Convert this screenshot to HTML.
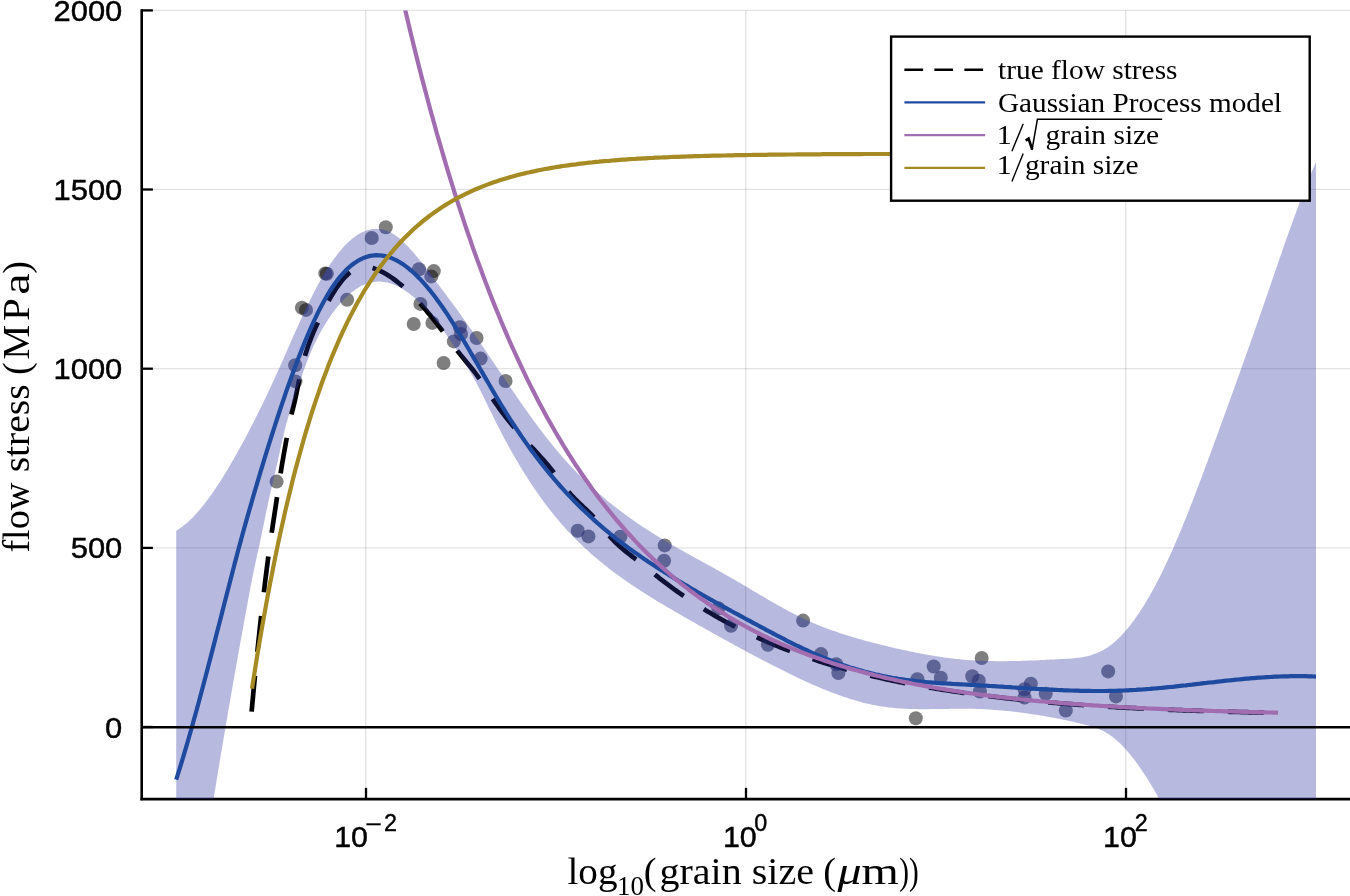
<!DOCTYPE html>
<html><head><meta charset="utf-8"><title>flow stress vs grain size</title>
<style>html,body{margin:0;padding:0;background:#fff;}svg{display:block;will-change:transform;}</style></head>
<body>
<svg width="1350" height="896" viewBox="0 0 1350 896">
<defs><clipPath id="c"><rect x="141.7" y="10.4" width="1208.3" height="788.7"/></clipPath><path id="rb" d="M176.2,530.7 L178.2,529.5 L180.2,528.1 L182.2,526.7 L184.2,525.1 L186.2,523.5 L188.2,521.7 L190.2,519.8 L192.2,517.9 L194.2,515.8 L196.2,513.7 L198.2,511.4 L200.2,509.1 L202.2,506.7 L204.2,504.2 L206.2,501.6 L208.2,499.0 L210.2,496.2 L212.2,493.4 L214.2,490.5 L216.2,487.6 L218.2,484.5 L220.2,481.5 L222.2,478.3 L224.2,475.1 L226.2,471.8 L228.2,468.5 L230.2,465.1 L232.2,461.6 L234.2,458.1 L236.2,454.6 L238.2,451.0 L240.2,447.3 L242.2,443.7 L244.2,439.9 L246.2,436.2 L248.2,432.4 L250.2,428.5 L252.2,424.7 L254.2,420.7 L256.2,416.8 L258.2,412.8 L260.2,408.7 L262.2,404.7 L264.2,400.5 L266.2,396.4 L268.2,392.1 L270.2,387.9 L272.2,383.6 L274.2,379.2 L276.2,374.8 L278.2,370.4 L280.2,365.9 L282.2,361.4 L284.2,356.9 L286.2,352.4 L288.2,347.8 L290.2,343.3 L292.2,338.8 L294.2,334.3 L296.2,329.8 L298.2,325.4 L300.2,321.0 L302.2,316.6 L304.2,312.3 L306.2,308.1 L308.2,303.9 L310.2,299.8 L312.2,295.8 L314.2,291.8 L316.2,288.0 L318.2,284.3 L320.2,280.7 L322.2,277.2 L324.2,273.8 L326.2,270.5 L328.2,267.3 L330.2,264.3 L332.2,261.4 L334.2,258.6 L336.2,255.9 L338.2,253.3 L340.2,250.9 L342.2,248.5 L344.2,246.3 L346.2,244.3 L348.2,242.3 L350.2,240.5 L352.2,238.8 L354.2,237.2 L356.2,235.8 L358.2,234.5 L360.2,233.3 L362.2,232.3 L364.2,231.4 L366.2,230.6 L368.2,230.0 L370.2,229.5 L372.2,229.1 L374.2,228.9 L376.2,228.8 L378.2,228.9 L380.2,229.1 L382.2,229.4 L384.2,229.9 L386.2,230.6 L388.2,231.4 L390.2,232.3 L392.2,233.4 L394.2,234.6 L396.2,236.0 L398.2,237.5 L400.2,239.1 L402.2,240.9 L404.2,242.8 L406.2,244.7 L408.2,246.8 L410.2,248.9 L412.2,251.2 L414.2,253.5 L416.2,255.9 L418.2,258.3 L420.2,260.8 L422.2,263.3 L424.2,265.9 L426.2,268.5 L428.2,271.1 L430.2,273.7 L432.2,276.4 L434.2,279.0 L436.2,281.7 L438.2,284.3 L440.2,287.0 L442.2,289.7 L444.2,292.3 L446.2,295.0 L448.2,297.7 L450.2,300.4 L452.2,303.1 L454.2,305.8 L456.2,308.6 L458.2,311.3 L460.2,314.1 L462.2,316.9 L464.2,319.7 L466.2,322.5 L468.2,325.4 L470.2,328.2 L472.2,331.1 L474.2,334.0 L476.2,336.9 L478.2,339.8 L480.2,342.8 L482.2,345.7 L484.2,348.7 L486.2,351.6 L488.2,354.6 L490.2,357.5 L492.2,360.5 L494.2,363.5 L496.2,366.5 L498.2,369.4 L500.2,372.4 L502.2,375.4 L504.2,378.3 L506.2,381.3 L508.2,384.2 L510.2,387.2 L512.2,390.1 L514.2,393.0 L516.2,395.9 L518.2,398.8 L520.2,401.7 L522.2,404.6 L524.2,407.4 L526.2,410.3 L528.2,413.1 L530.2,415.9 L532.2,418.6 L534.2,421.4 L536.2,424.1 L538.2,426.8 L540.2,429.4 L542.2,432.1 L544.2,434.7 L546.2,437.3 L548.2,439.8 L550.2,442.3 L552.2,444.8 L554.2,447.2 L556.2,449.6 L558.2,452.0 L560.2,454.3 L562.2,456.7 L564.2,458.9 L566.2,461.2 L568.2,463.4 L570.2,465.5 L572.2,467.7 L574.2,469.8 L576.2,471.9 L578.2,473.9 L580.2,475.9 L582.2,477.9 L584.2,479.9 L586.2,481.8 L588.2,483.7 L590.2,485.6 L592.2,487.5 L594.2,489.3 L596.2,491.1 L598.2,492.9 L600.2,494.6 L602.2,496.3 L604.2,498.0 L606.2,499.7 L608.2,501.4 L610.2,503.0 L612.2,504.6 L614.2,506.2 L616.2,507.8 L618.2,509.3 L620.2,510.8 L622.2,512.3 L624.2,513.8 L626.2,515.3 L628.2,516.8 L630.2,518.2 L632.2,519.6 L634.2,521.0 L636.2,522.4 L638.2,523.7 L640.2,525.1 L642.2,526.4 L644.2,527.7 L646.2,529.0 L648.2,530.3 L650.2,531.6 L652.2,532.9 L654.2,534.1 L656.2,535.4 L658.2,536.6 L660.2,537.8 L662.2,539.0 L664.2,540.2 L666.2,541.4 L668.2,542.6 L670.2,543.8 L672.2,544.9 L674.2,546.1 L676.2,547.2 L678.2,548.4 L680.2,549.5 L682.2,550.6 L684.2,551.7 L686.2,552.9 L688.2,554.0 L690.2,555.1 L692.2,556.2 L694.2,557.3 L696.2,558.4 L698.2,559.5 L700.2,560.6 L702.2,561.7 L704.2,562.8 L706.2,563.9 L708.2,565.0 L710.2,566.1 L712.2,567.2 L714.2,568.3 L716.2,569.4 L718.2,570.5 L720.2,571.7 L722.2,572.8 L724.2,573.9 L726.2,575.0 L728.2,576.2 L730.2,577.3 L732.2,578.4 L734.2,579.6 L736.2,580.8 L738.2,581.9 L740.2,583.1 L742.2,584.3 L744.2,585.5 L746.2,586.6 L748.2,587.8 L750.2,589.0 L752.2,590.2 L754.2,591.4 L756.2,592.6 L758.2,593.8 L760.2,595.0 L762.2,596.1 L764.2,597.3 L766.2,598.5 L768.2,599.7 L770.2,600.8 L772.2,602.0 L774.2,603.1 L776.2,604.3 L778.2,605.4 L780.2,606.5 L782.2,607.6 L784.2,608.7 L786.2,609.8 L788.2,610.9 L790.2,612.0 L792.2,613.0 L794.2,614.0 L796.2,615.1 L798.2,616.0 L800.2,617.0 L802.2,618.0 L804.2,618.9 L806.2,619.9 L808.2,620.8 L810.2,621.7 L812.2,622.5 L814.2,623.4 L816.2,624.2 L818.2,625.1 L820.2,625.9 L822.2,626.7 L824.2,627.4 L826.2,628.2 L828.2,628.9 L830.2,629.7 L832.2,630.4 L834.2,631.1 L836.2,631.8 L838.2,632.5 L840.2,633.2 L842.2,633.8 L844.2,634.5 L846.2,635.1 L848.2,635.7 L850.2,636.3 L852.2,637.0 L854.2,637.5 L856.2,638.1 L858.2,638.7 L860.2,639.3 L862.2,639.8 L864.2,640.4 L866.2,640.9 L868.2,641.5 L870.2,642.0 L872.2,642.5 L874.2,643.0 L876.2,643.6 L878.2,644.1 L880.2,644.6 L882.2,645.1 L884.2,645.5 L886.2,646.0 L888.2,646.5 L890.2,647.0 L892.2,647.5 L894.2,647.9 L896.2,648.4 L898.2,648.8 L900.2,649.3 L902.2,649.7 L904.2,650.2 L906.2,650.6 L908.2,651.0 L910.2,651.4 L912.2,651.8 L914.2,652.3 L916.2,652.7 L918.2,653.0 L920.2,653.4 L922.2,653.8 L924.2,654.2 L926.2,654.5 L928.2,654.9 L930.2,655.2 L932.2,655.6 L934.2,655.9 L936.2,656.2 L938.2,656.5 L940.2,656.8 L942.2,657.1 L944.2,657.4 L946.2,657.7 L948.2,657.9 L950.2,658.2 L952.2,658.4 L954.2,658.7 L956.2,658.9 L958.2,659.1 L960.2,659.3 L962.2,659.5 L964.2,659.7 L966.2,659.9 L968.2,660.0 L970.2,660.2 L972.2,660.3 L974.2,660.4 L976.2,660.5 L978.2,660.7 L980.2,660.7 L982.2,660.8 L984.2,660.9 L986.2,661.0 L988.2,661.0 L990.2,661.1 L992.2,661.1 L994.2,661.1 L996.2,661.2 L998.2,661.2 L1000.2,661.2 L1002.2,661.2 L1004.2,661.2 L1006.2,661.2 L1008.2,661.1 L1010.2,661.1 L1012.2,661.1 L1014.2,661.0 L1016.2,661.0 L1018.2,660.9 L1020.2,660.9 L1022.2,660.8 L1024.2,660.7 L1026.2,660.7 L1028.2,660.6 L1030.2,660.5 L1032.2,660.4 L1034.2,660.4 L1036.2,660.3 L1038.2,660.2 L1040.2,660.1 L1042.2,660.0 L1044.2,659.9 L1046.2,659.8 L1048.2,659.7 L1050.2,659.6 L1052.2,659.5 L1054.2,659.4 L1056.2,659.3 L1058.2,659.2 L1060.2,659.1 L1062.2,659.0 L1064.2,658.9 L1066.2,658.8 L1068.2,658.7 L1070.2,658.6 L1072.2,658.4 L1074.2,658.2 L1076.2,658.0 L1078.2,657.8 L1080.2,657.5 L1082.2,657.2 L1084.2,656.8 L1086.2,656.4 L1088.2,655.9 L1090.2,655.4 L1092.2,654.8 L1094.2,654.1 L1096.2,653.3 L1098.2,652.5 L1100.2,651.5 L1102.2,650.5 L1104.2,649.4 L1106.2,648.2 L1108.2,646.9 L1110.2,645.5 L1112.2,643.9 L1114.2,642.3 L1116.2,640.5 L1118.2,638.7 L1120.2,636.7 L1122.2,634.6 L1124.2,632.4 L1126.2,630.1 L1128.2,627.7 L1130.2,625.2 L1132.2,622.6 L1134.2,619.9 L1136.2,617.1 L1138.2,614.2 L1140.2,611.2 L1142.2,608.1 L1144.2,604.9 L1146.2,601.6 L1148.2,598.2 L1150.2,594.7 L1152.2,591.2 L1154.2,587.5 L1156.2,583.7 L1158.2,579.9 L1160.2,575.9 L1162.2,571.9 L1164.2,567.8 L1166.2,563.6 L1168.2,559.3 L1170.2,554.9 L1172.2,550.5 L1174.2,545.9 L1176.2,541.3 L1178.2,536.6 L1180.2,531.9 L1182.2,527.0 L1184.2,522.1 L1186.2,517.2 L1188.2,512.2 L1190.2,507.1 L1192.2,501.9 L1194.2,496.8 L1196.2,491.6 L1198.2,486.3 L1200.2,481.0 L1202.2,475.7 L1204.2,470.3 L1206.2,464.9 L1208.2,459.5 L1210.2,454.1 L1212.2,448.6 L1214.2,443.2 L1216.2,437.7 L1218.2,432.2 L1220.2,426.7 L1222.2,421.3 L1224.2,415.8 L1226.2,410.3 L1228.2,404.7 L1230.2,399.2 L1232.2,393.7 L1234.2,388.1 L1236.2,382.6 L1238.2,377.0 L1240.2,371.4 L1242.2,365.8 L1244.2,360.2 L1246.2,354.6 L1248.2,348.9 L1250.2,343.3 L1252.2,337.6 L1254.2,331.9 L1256.2,326.2 L1258.2,320.5 L1260.2,314.8 L1262.2,309.0 L1264.2,303.3 L1266.2,297.5 L1268.2,291.7 L1270.2,285.9 L1272.2,280.1 L1274.2,274.3 L1276.2,268.4 L1278.2,262.6 L1280.2,256.8 L1282.2,251.1 L1284.2,245.3 L1286.2,239.6 L1288.2,233.9 L1290.2,228.3 L1292.2,222.7 L1294.2,217.2 L1296.2,211.7 L1298.2,206.3 L1300.2,201.0 L1302.2,195.7 L1304.2,190.5 L1306.2,185.4 L1308.2,180.4 L1310.2,175.5 L1312.2,170.8 L1314.2,166.1 L1316.0,161.9 L1316.0,1191.0 L1314.2,1189.0 L1312.2,1185.9 L1310.2,1182.0 L1308.2,1177.4 L1306.2,1172.1 L1304.2,1166.4 L1302.2,1160.4 L1300.2,1154.1 L1298.2,1147.7 L1296.2,1141.3 L1294.2,1135.0 L1292.2,1128.8 L1290.2,1122.7 L1288.2,1116.7 L1286.2,1110.9 L1284.2,1105.1 L1282.2,1099.4 L1280.2,1093.9 L1278.2,1088.3 L1276.2,1082.9 L1274.2,1077.5 L1272.2,1072.2 L1270.2,1066.9 L1268.2,1061.6 L1266.2,1056.3 L1264.2,1051.1 L1262.2,1045.9 L1260.2,1040.7 L1258.2,1035.5 L1256.2,1030.2 L1254.2,1025.0 L1252.2,1019.7 L1250.2,1014.4 L1248.2,1009.0 L1246.2,1003.6 L1244.2,998.2 L1242.2,992.6 L1240.2,987.0 L1238.2,981.3 L1236.2,975.6 L1234.2,969.8 L1232.2,964.0 L1230.2,958.1 L1228.2,952.3 L1226.2,946.5 L1224.2,940.7 L1222.2,935.0 L1220.2,929.4 L1218.2,923.8 L1216.2,918.4 L1214.2,913.0 L1212.2,907.8 L1210.2,902.8 L1208.2,897.9 L1206.2,893.1 L1204.2,888.4 L1202.2,883.9 L1200.2,879.4 L1198.2,875.1 L1196.2,870.8 L1194.2,866.6 L1192.2,862.5 L1190.2,858.4 L1188.2,854.4 L1186.2,850.4 L1184.2,846.4 L1182.2,842.4 L1180.2,838.5 L1178.2,834.6 L1176.2,830.6 L1174.2,826.8 L1172.2,822.9 L1170.2,819.1 L1168.2,815.3 L1166.2,811.5 L1164.2,807.8 L1162.2,804.2 L1160.2,800.6 L1158.2,797.0 L1156.2,793.5 L1154.2,790.1 L1152.2,786.7 L1150.2,783.4 L1148.2,780.1 L1146.2,777.0 L1144.2,773.9 L1142.2,770.9 L1140.2,767.9 L1138.2,765.1 L1136.2,762.3 L1134.2,759.6 L1132.2,757.1 L1130.2,754.6 L1128.2,752.2 L1126.2,749.9 L1124.2,747.7 L1122.2,745.6 L1120.2,743.6 L1118.2,741.7 L1116.2,739.9 L1114.2,738.2 L1112.2,736.7 L1110.2,735.2 L1108.2,733.9 L1106.2,732.7 L1104.2,731.6 L1102.2,730.6 L1100.2,729.7 L1098.2,728.8 L1096.2,728.1 L1094.2,727.4 L1092.2,726.7 L1090.2,726.1 L1088.2,725.5 L1086.2,725.0 L1084.2,724.5 L1082.2,724.0 L1080.2,723.5 L1078.2,723.0 L1076.2,722.5 L1074.2,722.1 L1072.2,721.6 L1070.2,721.2 L1068.2,720.7 L1066.2,720.3 L1064.2,719.9 L1062.2,719.5 L1060.2,719.1 L1058.2,718.7 L1056.2,718.3 L1054.2,717.9 L1052.2,717.6 L1050.2,717.2 L1048.2,716.8 L1046.2,716.5 L1044.2,716.1 L1042.2,715.8 L1040.2,715.5 L1038.2,715.1 L1036.2,714.8 L1034.2,714.5 L1032.2,714.2 L1030.2,713.9 L1028.2,713.6 L1026.2,713.3 L1024.2,713.1 L1022.2,712.8 L1020.2,712.5 L1018.2,712.3 L1016.2,712.0 L1014.2,711.8 L1012.2,711.6 L1010.2,711.3 L1008.2,711.1 L1006.2,710.9 L1004.2,710.7 L1002.2,710.5 L1000.2,710.4 L998.2,710.2 L996.2,710.0 L994.2,709.9 L992.2,709.7 L990.2,709.6 L988.2,709.5 L986.2,709.3 L984.2,709.2 L982.2,709.1 L980.2,709.0 L978.2,709.0 L976.2,708.9 L974.2,708.8 L972.2,708.8 L970.2,708.8 L968.2,708.7 L966.2,708.7 L964.2,708.7 L962.2,708.7 L960.2,708.7 L958.2,708.7 L956.2,708.7 L954.2,708.8 L952.2,708.8 L950.2,708.8 L948.2,708.9 L946.2,708.9 L944.2,708.9 L942.2,709.0 L940.2,709.0 L938.2,709.0 L936.2,709.1 L934.2,709.1 L932.2,709.1 L930.2,709.1 L928.2,709.2 L926.2,709.2 L924.2,709.2 L922.2,709.2 L920.2,709.2 L918.2,709.2 L916.2,709.1 L914.2,709.1 L912.2,709.0 L910.2,709.0 L908.2,708.9 L906.2,708.8 L904.2,708.7 L902.2,708.6 L900.2,708.5 L898.2,708.3 L896.2,708.2 L894.2,708.0 L892.2,707.8 L890.2,707.6 L888.2,707.4 L886.2,707.1 L884.2,706.8 L882.2,706.5 L880.2,706.2 L878.2,705.9 L876.2,705.5 L874.2,705.1 L872.2,704.7 L870.2,704.3 L868.2,703.8 L866.2,703.4 L864.2,702.9 L862.2,702.4 L860.2,701.8 L858.2,701.3 L856.2,700.7 L854.2,700.1 L852.2,699.5 L850.2,698.9 L848.2,698.3 L846.2,697.6 L844.2,697.0 L842.2,696.3 L840.2,695.6 L838.2,694.9 L836.2,694.1 L834.2,693.4 L832.2,692.6 L830.2,691.9 L828.2,691.1 L826.2,690.3 L824.2,689.5 L822.2,688.7 L820.2,687.8 L818.2,687.0 L816.2,686.1 L814.2,685.2 L812.2,684.4 L810.2,683.5 L808.2,682.6 L806.2,681.7 L804.2,680.7 L802.2,679.8 L800.2,678.9 L798.2,677.9 L796.2,677.0 L794.2,676.0 L792.2,675.0 L790.2,674.1 L788.2,673.1 L786.2,672.1 L784.2,671.1 L782.2,670.1 L780.2,669.1 L778.2,668.1 L776.2,667.1 L774.2,666.1 L772.2,665.0 L770.2,664.0 L768.2,663.0 L766.2,662.0 L764.2,660.9 L762.2,659.9 L760.2,658.8 L758.2,657.8 L756.2,656.7 L754.2,655.7 L752.2,654.6 L750.2,653.5 L748.2,652.5 L746.2,651.4 L744.2,650.3 L742.2,649.2 L740.2,648.2 L738.2,647.1 L736.2,646.0 L734.2,644.9 L732.2,643.8 L730.2,642.7 L728.2,641.6 L726.2,640.5 L724.2,639.4 L722.2,638.3 L720.2,637.2 L718.2,636.1 L716.2,635.0 L714.2,633.9 L712.2,632.7 L710.2,631.6 L708.2,630.5 L706.2,629.4 L704.2,628.2 L702.2,627.1 L700.2,626.0 L698.2,624.9 L696.2,623.7 L694.2,622.6 L692.2,621.5 L690.2,620.3 L688.2,619.2 L686.2,618.0 L684.2,616.9 L682.2,615.8 L680.2,614.6 L678.2,613.5 L676.2,612.3 L674.2,611.2 L672.2,610.0 L670.2,608.8 L668.2,607.7 L666.2,606.5 L664.2,605.3 L662.2,604.1 L660.2,602.9 L658.2,601.7 L656.2,600.5 L654.2,599.3 L652.2,598.0 L650.2,596.8 L648.2,595.5 L646.2,594.3 L644.2,593.0 L642.2,591.7 L640.2,590.4 L638.2,589.1 L636.2,587.8 L634.2,586.5 L632.2,585.2 L630.2,583.8 L628.2,582.4 L626.2,581.1 L624.2,579.7 L622.2,578.2 L620.2,576.8 L618.2,575.4 L616.2,573.9 L614.2,572.4 L612.2,570.9 L610.2,569.4 L608.2,567.9 L606.2,566.3 L604.2,564.7 L602.2,563.1 L600.2,561.5 L598.2,559.8 L596.2,558.1 L594.2,556.4 L592.2,554.7 L590.2,552.9 L588.2,551.1 L586.2,549.3 L584.2,547.5 L582.2,545.6 L580.2,543.6 L578.2,541.7 L576.2,539.7 L574.2,537.7 L572.2,535.6 L570.2,533.5 L568.2,531.4 L566.2,529.2 L564.2,527.0 L562.2,524.7 L560.2,522.4 L558.2,520.1 L556.2,517.7 L554.2,515.2 L552.2,512.8 L550.2,510.3 L548.2,507.7 L546.2,505.1 L544.2,502.4 L542.2,499.7 L540.2,496.9 L538.2,494.1 L536.2,491.2 L534.2,488.3 L532.2,485.4 L530.2,482.3 L528.2,479.3 L526.2,476.1 L524.2,472.9 L522.2,469.7 L520.2,466.4 L518.2,463.1 L516.2,459.7 L514.2,456.2 L512.2,452.7 L510.2,449.2 L508.2,445.5 L506.2,441.9 L504.2,438.2 L502.2,434.4 L500.2,430.5 L498.2,426.6 L496.2,422.7 L494.2,418.7 L492.2,414.6 L490.2,410.5 L488.2,406.4 L486.2,402.4 L484.2,398.3 L482.2,394.3 L480.2,390.3 L478.2,386.4 L476.2,382.6 L474.2,379.0 L472.2,375.4 L470.2,371.9 L468.2,368.5 L466.2,365.2 L464.2,362.0 L462.2,358.7 L460.2,355.6 L458.2,352.4 L456.2,349.4 L454.2,346.3 L452.2,343.3 L450.2,340.4 L448.2,337.5 L446.2,334.6 L444.2,331.8 L442.2,329.1 L440.2,326.4 L438.2,323.8 L436.2,321.2 L434.2,318.7 L432.2,316.3 L430.2,314.0 L428.2,311.7 L426.2,309.4 L424.2,307.3 L422.2,305.2 L420.2,303.2 L418.2,301.2 L416.2,299.4 L414.2,297.6 L412.2,295.9 L410.2,294.3 L408.2,292.8 L406.2,291.4 L404.2,290.0 L402.2,288.8 L400.2,287.6 L398.2,286.6 L396.2,285.6 L394.2,284.7 L392.2,284.0 L390.2,283.3 L388.2,282.7 L386.2,282.3 L384.2,281.9 L382.2,281.7 L380.2,281.6 L378.2,281.6 L376.2,281.7 L374.2,281.9 L372.2,282.2 L370.2,282.6 L368.2,283.2 L366.2,283.9 L364.2,284.7 L362.2,285.6 L360.2,286.6 L358.2,287.8 L356.2,289.0 L354.2,290.4 L352.2,291.9 L350.2,293.5 L348.2,295.3 L346.2,297.2 L344.2,299.1 L342.2,301.2 L340.2,303.5 L338.2,305.8 L336.2,308.3 L334.2,310.9 L332.2,313.6 L330.2,316.5 L328.2,319.4 L326.2,322.5 L324.2,325.8 L322.2,329.2 L320.2,332.7 L318.2,336.5 L316.2,340.5 L314.2,344.6 L312.2,349.0 L310.2,353.7 L308.2,358.5 L306.2,363.7 L304.2,369.1 L302.2,374.9 L300.2,380.9 L298.2,387.2 L296.2,393.3 L294.2,399.2 L292.2,405.0 L290.2,410.9 L288.2,417.3 L286.2,424.3 L284.2,432.2 L282.2,440.8 L280.2,449.8 L278.2,458.9 L276.2,467.8 L274.2,476.3 L272.2,484.8 L270.2,493.5 L268.2,502.5 L266.2,512.1 L264.2,521.9 L262.2,531.7 L260.2,541.3 L258.2,550.5 L256.2,559.6 L254.2,568.8 L252.2,578.4 L250.2,588.7 L248.2,599.5 L246.2,610.4 L244.2,621.4 L242.2,632.4 L240.2,643.5 L238.2,654.6 L236.2,665.9 L234.2,677.1 L232.2,688.5 L230.2,700.0 L228.2,711.5 L226.2,723.2 L224.2,734.9 L222.2,746.8 L220.2,758.8 L218.2,770.8 L216.2,782.9 L214.2,795.1 L212.2,807.4 L210.2,819.7 L208.2,832.0 L206.2,844.4 L204.2,856.8 L202.2,869.3 L200.2,881.7 L198.2,894.1 L196.2,906.6 L194.2,919.0 L192.2,931.4 L190.2,943.8 L188.2,956.1 L186.2,968.4 L184.2,980.6 L182.2,992.7 L180.2,1004.8 L178.2,1016.8 L176.2,1028.7Z"/><clipPath id="r"><use href="#rb"/></clipPath></defs>
<rect width="1350" height="896" fill="#fff"/>
<line x1="365.7" x2="365.7" y1="10.4" y2="799.1" stroke="#000" stroke-opacity="0.11" stroke-width="1.4"/>
<line x1="745.7" x2="745.7" y1="10.4" y2="799.1" stroke="#000" stroke-opacity="0.11" stroke-width="1.4"/>
<line x1="1125.7" x2="1125.7" y1="10.4" y2="799.1" stroke="#000" stroke-opacity="0.11" stroke-width="1.4"/>
<line x1="141.7" x2="1350" y1="726.9" y2="726.9" stroke="#000" stroke-opacity="0.11" stroke-width="1.3"/>
<line x1="141.7" x2="1350" y1="547.8" y2="547.8" stroke="#000" stroke-opacity="0.11" stroke-width="1.3"/>
<line x1="141.7" x2="1350" y1="368.6" y2="368.6" stroke="#000" stroke-opacity="0.11" stroke-width="1.3"/>
<line x1="141.7" x2="1350" y1="189.4" y2="189.4" stroke="#000" stroke-opacity="0.11" stroke-width="1.3"/>
<line x1="141.7" x2="1350" y1="10.3" y2="10.3" stroke="#000" stroke-opacity="0.11" stroke-width="1.3"/>
<g stroke="#000" stroke-width="2.6" fill="none">
<path d="M141.7,9.200000000000001 V800.35"/>
<path d="M140.45,799.1 H1350"/>
</g><g stroke="#000" stroke-width="2.3">
<line x1="366.0" x2="366.0" y1="799.1" y2="787.9"/>
<line x1="746.0" x2="746.0" y1="799.1" y2="787.9"/>
<line x1="1126.0" x2="1126.0" y1="799.1" y2="787.9"/>
<line x1="141.7" x2="152.89999999999998" y1="727.0" y2="727.0"/>
<line x1="141.7" x2="152.89999999999998" y1="547.9" y2="547.9"/>
<line x1="141.7" x2="152.89999999999998" y1="368.7" y2="368.7"/>
<line x1="141.7" x2="152.89999999999998" y1="189.5" y2="189.5"/>
<line x1="141.7" x2="152.89999999999998" y1="10.4" y2="10.4"/>
</g>
<g clip-path="url(#c)">
<g fill="#000" fill-opacity="0.5">
<circle cx="276.6" cy="481.6" r="7"/>
<circle cx="295.2" cy="365.2" r="7"/>
<circle cx="295.5" cy="381.4" r="7"/>
<circle cx="301.9" cy="307.8" r="7"/>
<circle cx="306" cy="309.9" r="7"/>
<circle cx="325.3" cy="273.4" r="7"/>
<circle cx="326.8" cy="273.8" r="7"/>
<circle cx="347.1" cy="299.7" r="7"/>
<circle cx="371.7" cy="238" r="7"/>
<circle cx="385.8" cy="227.3" r="7"/>
<circle cx="413.7" cy="324" r="7"/>
<circle cx="419" cy="269.3" r="7"/>
<circle cx="433.8" cy="271.1" r="7"/>
<circle cx="431.3" cy="276.4" r="7"/>
<circle cx="420.4" cy="303.9" r="7"/>
<circle cx="432.4" cy="322.9" r="7"/>
<circle cx="459.9" cy="327.3" r="7"/>
<circle cx="461" cy="334" r="7"/>
<circle cx="476.6" cy="338" r="7"/>
<circle cx="453.8" cy="341.4" r="7"/>
<circle cx="480.6" cy="358.6" r="7"/>
<circle cx="443.6" cy="363" r="7"/>
<circle cx="505.6" cy="381" r="7"/>
<circle cx="577.7" cy="530.8" r="7"/>
<circle cx="588.4" cy="536.4" r="7"/>
<circle cx="620.4" cy="536.7" r="7"/>
<circle cx="664.7" cy="545.4" r="7"/>
<circle cx="664.1" cy="560.8" r="7"/>
<circle cx="718.3" cy="608.3" r="7"/>
<circle cx="731" cy="625.8" r="7"/>
<circle cx="767.9" cy="644.7" r="7"/>
<circle cx="803.1" cy="620.6" r="7"/>
<circle cx="821" cy="654.1" r="7"/>
<circle cx="836.2" cy="664.2" r="7"/>
<circle cx="838.4" cy="673.1" r="7"/>
<circle cx="915.8" cy="718.3" r="7"/>
<circle cx="917.4" cy="679.2" r="7"/>
<circle cx="933.7" cy="666.5" r="7"/>
<circle cx="940.8" cy="677.7" r="7"/>
<circle cx="981.7" cy="658" r="7"/>
<circle cx="972.3" cy="676.3" r="7"/>
<circle cx="978.8" cy="680.8" r="7"/>
<circle cx="979.9" cy="691.5" r="7"/>
<circle cx="1030.8" cy="683.7" r="7"/>
<circle cx="1024.5" cy="689.3" r="7"/>
<circle cx="1024.5" cy="697.5" r="7"/>
<circle cx="1045.7" cy="693.8" r="7"/>
<circle cx="1065.8" cy="710.5" r="7"/>
<circle cx="1108.2" cy="671.4" r="7"/>
<circle cx="1116" cy="696.4" r="7"/>
</g>
<path d="M251.6,711.6 L253.6,690.0 L255.6,669.2 L257.6,649.3 L259.6,630.2 L261.6,612.0 L263.6,594.6 L265.6,578.0 L267.6,562.3 L269.6,547.4 L271.6,533.3 L273.6,519.9 L275.6,506.8 L277.6,493.4 L279.6,479.8 L281.6,467.0 L283.6,455.3 L285.6,444.2 L287.6,433.4 L289.6,422.9 L291.6,413.6 L293.6,405.8 L295.6,397.5 L297.6,387.8 L299.6,377.9 L301.6,369.0 L303.6,361.0 L305.6,353.9 L307.6,347.5 L309.6,341.8 L311.6,336.6 L313.6,331.8 L315.6,327.3 L317.6,323.0 L319.6,318.7 L321.6,314.6 L323.6,310.5 L325.6,306.6 L327.6,302.8 L329.6,299.2 L331.6,295.7 L333.6,292.4 L335.6,289.3 L337.6,286.3 L339.6,283.6 L341.6,281.0 L343.6,278.6 L345.6,276.5 L347.6,274.5 L349.6,272.7 L351.6,271.2 L353.6,269.9 L355.6,268.7 L357.6,267.9 L359.6,267.2 L361.6,266.8 L363.6,266.6 L365.6,266.6 L367.6,266.8 L369.6,267.2 L371.6,267.7 L373.6,268.3 L375.6,269.1 L377.6,269.8 L379.6,270.7 L381.6,271.7 L383.6,272.7 L385.6,273.8 L387.6,275.0 L389.6,276.3 L391.6,277.6 L393.6,279.0 L395.6,280.5 L397.6,282.0 L399.6,283.7 L401.6,285.3 L403.6,287.1 L405.6,288.9 L407.6,290.7 L409.6,292.6 L411.6,294.6 L413.6,296.6 L415.6,298.7 L417.6,300.8 L419.6,303.0 L421.6,305.2 L423.6,307.5 L425.6,309.8 L427.6,312.2 L429.6,314.6 L431.6,317.0 L433.6,319.5 L435.6,322.0 L437.6,324.6 L439.6,327.2 L441.6,329.8 L443.6,332.4 L445.6,335.1 L447.6,337.8 L449.6,340.5 L451.6,343.2 L453.6,345.9 L455.6,348.5 L457.6,351.1 L459.6,353.6 L461.6,356.1 L463.6,358.5 L465.6,361.0 L467.6,363.4 L469.6,365.8 L471.6,368.3 L473.6,370.8 L475.6,373.4 L477.6,376.1 L479.6,378.9 L481.6,381.8 L483.6,384.8 L485.6,387.8 L487.6,390.9 L489.6,394.0 L491.6,397.1 L493.6,400.2 L495.6,403.1 L497.6,406.0 L499.6,408.8 L501.6,411.5 L503.6,414.2 L505.6,416.8 L507.6,419.4 L509.6,421.9 L511.6,424.4 L513.6,426.8 L515.6,429.1 L517.6,431.5 L519.6,433.8 L521.6,436.0 L523.6,438.3 L525.6,440.5 L527.6,442.7 L529.6,444.9 L531.6,447.1 L533.6,449.2 L535.6,451.4 L537.6,453.6 L539.6,455.8 L541.6,458.0 L543.6,460.2 L545.6,462.5 L547.6,464.8 L549.6,467.2 L551.6,469.7 L553.6,472.2 L555.6,474.7 L557.6,477.4 L559.6,480.1 L561.6,482.8 L563.6,485.4 L565.6,488.0 L567.6,490.6 L569.6,493.0 L571.6,495.3 L573.6,497.4 L575.6,499.5 L577.6,501.5 L579.6,503.4 L581.6,505.3 L583.6,507.2 L585.6,509.0 L587.6,510.9 L589.6,512.9 L591.6,514.9 L593.6,517.0 L595.6,519.2 L597.6,521.5 L599.6,523.9 L601.6,526.4 L603.6,528.8 L605.6,531.3 L607.6,533.7 L609.6,536.1 L611.6,538.3 L613.6,540.5 L615.6,542.5 L617.6,544.4 L619.6,546.3 L621.6,548.0 L623.6,549.7 L625.6,551.3 L627.6,552.9 L629.6,554.5 L631.6,556.0 L633.6,557.5 L635.6,559.1 L637.6,560.6 L639.6,562.2 L641.6,563.8 L643.6,565.4 L645.6,567.0 L647.6,568.6 L649.6,570.2 L651.6,571.9 L653.6,573.5 L655.6,575.1 L657.6,576.7 L659.6,578.3 L661.6,579.8 L663.6,581.4 L665.6,582.9 L667.6,584.4 L669.6,585.9 L671.6,587.4 L673.6,588.8 L675.6,590.3 L677.6,591.7 L679.6,593.1 L681.6,594.5 L683.6,595.9 L685.6,597.3 L687.6,598.6 L689.6,600.0 L691.6,601.3 L693.6,602.6 L695.6,603.9 L697.6,605.2 L699.6,606.5 L701.6,607.7 L703.6,608.9 L705.6,610.2 L707.6,611.4 L709.6,612.6 L711.6,613.8 L713.6,614.9 L715.6,616.1 L717.6,617.2 L719.6,618.4 L721.6,619.5 L723.6,620.6 L725.6,621.7 L727.6,622.8 L729.6,623.8 L731.6,624.9 L733.6,625.9 L735.6,627.0 L737.6,628.0 L739.6,629.0 L741.6,630.0 L743.6,631.0 L745.6,632.0 L747.6,632.9 L749.6,633.9 L751.6,634.8 L753.6,635.7 L755.6,636.7 L757.6,637.6 L759.6,638.5 L761.6,639.4 L763.6,640.3 L765.6,641.1 L767.6,642.0 L769.6,642.8 L771.6,643.7 L773.6,644.5 L775.6,645.3 L777.6,646.2 L779.6,647.0 L781.6,647.8 L783.6,648.5 L785.6,649.3 L787.6,650.1 L789.6,650.9 L791.6,651.6 L793.6,652.4 L795.6,653.1 L797.6,653.8 L799.6,654.6 L801.6,655.3 L803.6,656.0 L805.6,656.7 L807.6,657.4 L809.6,658.1 L811.6,658.7 L813.6,659.4 L815.6,660.1 L817.6,660.7 L819.6,661.4 L821.6,662.0 L823.6,662.7 L825.6,663.3 L827.6,663.9 L829.6,664.5 L831.6,665.1 L833.6,665.7 L835.6,666.3 L837.6,666.9 L839.6,667.5 L841.6,668.1 L843.6,668.6 L845.6,669.2 L847.6,669.8 L849.6,670.3 L851.6,670.8 L853.6,671.4 L855.6,671.9 L857.6,672.4 L859.6,672.9 L861.6,673.5 L863.6,674.0 L865.6,674.5 L867.6,675.0 L869.6,675.4 L871.6,675.9 L873.6,676.4 L875.6,676.9 L877.6,677.3 L879.6,677.8 L881.6,678.3 L883.6,678.7 L885.6,679.1 L887.6,679.6 L889.6,680.0 L891.6,680.4 L893.6,680.9 L895.6,681.3 L897.6,681.7 L899.6,682.1 L901.6,682.5 L903.6,682.9 L905.6,683.3 L907.6,683.7 L909.6,684.1 L911.6,684.4 L913.6,684.8 L915.6,685.2 L917.6,685.6 L919.6,685.9 L921.6,686.3 L923.6,686.6 L925.6,687.0 L927.6,687.3 L929.6,687.7 L931.6,688.0 L933.6,688.3 L935.6,688.7 L937.6,689.0 L939.6,689.3 L941.6,689.6 L943.6,689.9 L945.6,690.2 L947.6,690.5 L949.6,690.8 L951.6,691.1 L953.6,691.4 L955.6,691.7 L957.6,692.0 L959.6,692.3 L961.6,692.6 L963.6,692.9 L965.6,693.1 L967.6,693.4 L969.6,693.7 L971.6,694.0 L973.6,694.2 L975.6,694.5 L977.6,694.7 L979.6,695.0 L981.6,695.3 L983.6,695.5 L985.6,695.7 L987.6,696.0 L989.6,696.2 L991.6,696.5 L993.6,696.7 L995.6,697.0 L997.6,697.2 L999.6,697.4 L1001.6,697.6 L1003.6,697.9 L1005.6,698.1 L1007.6,698.3 L1009.6,698.5 L1011.6,698.8 L1013.6,699.0 L1015.6,699.2 L1017.6,699.4 L1019.6,699.6 L1021.6,699.8 L1023.6,700.0 L1025.6,700.2 L1027.6,700.4 L1029.6,700.6 L1031.6,700.8 L1033.6,701.0 L1035.6,701.2 L1037.6,701.4 L1039.6,701.5 L1041.6,701.7 L1043.6,701.9 L1045.6,702.1 L1047.6,702.3 L1049.6,702.4 L1051.6,702.6 L1053.6,702.8 L1055.6,702.9 L1057.6,703.1 L1059.6,703.3 L1061.6,703.4 L1063.6,703.6 L1065.6,703.8 L1067.6,703.9 L1069.6,704.1 L1071.6,704.2 L1073.6,704.4 L1075.6,704.5 L1077.6,704.7 L1079.6,704.8 L1081.6,705.0 L1083.6,705.1 L1085.6,705.2 L1087.6,705.4 L1089.6,705.5 L1091.6,705.7 L1093.6,705.8 L1095.6,705.9 L1097.6,706.1 L1099.6,706.2 L1101.6,706.3 L1103.6,706.4 L1105.6,706.6 L1107.6,706.7 L1109.6,706.8 L1111.6,706.9 L1113.6,707.0 L1115.6,707.2 L1117.6,707.3 L1119.6,707.4 L1121.6,707.5 L1123.6,707.6 L1125.6,707.7 L1127.6,707.8 L1129.6,707.9 L1131.6,708.0 L1133.6,708.1 L1135.6,708.2 L1137.6,708.3 L1139.6,708.4 L1141.6,708.5 L1143.6,708.6 L1145.6,708.7 L1147.6,708.8 L1149.6,708.9 L1151.6,709.0 L1153.6,709.1 L1155.6,709.2 L1157.6,709.3 L1159.6,709.3 L1161.6,709.4 L1163.6,709.5 L1165.6,709.6 L1167.6,709.7 L1169.6,709.8 L1171.6,709.8 L1173.6,709.9 L1175.6,710.0 L1177.6,710.1 L1179.6,710.1 L1181.6,710.2 L1183.6,710.3 L1185.6,710.4 L1187.6,710.4 L1189.6,710.5 L1191.6,710.6 L1193.6,710.7 L1195.6,710.7 L1197.6,710.8 L1199.6,710.9 L1201.6,710.9 L1203.6,711.0 L1205.6,711.0 L1207.6,711.1 L1209.6,711.2 L1211.6,711.2 L1213.6,711.3 L1215.6,711.4 L1217.6,711.4 L1219.6,711.5 L1221.6,711.5 L1223.6,711.6 L1225.6,711.6 L1227.6,711.7 L1229.6,711.8 L1231.6,711.8 L1233.6,711.9 L1235.6,711.9 L1237.6,712.0 L1239.6,712.0 L1241.6,712.1 L1243.6,712.1 L1245.6,712.2 L1247.6,712.2 L1249.6,712.3 L1251.6,712.3 L1253.6,712.4 L1255.6,712.4 L1257.6,712.5 L1259.6,712.5 L1261.6,712.6 L1263.6,712.6 L1265.6,712.7 L1267.6,712.7 L1269.6,712.8 L1271.6,712.8 L1273.6,712.9 L1275.6,712.9 L1277.6,713.0 L1278.0,713.0" fill="none" stroke="#000" stroke-width="4.7" stroke-dasharray="36 24"/>
<use href="#rb" fill="#2d349e" fill-opacity="0.34"/>
<g clip-path="url(#r)" fill="#505fe7" fill-opacity="0.15">
<circle cx="276.6" cy="481.6" r="7"/>
<circle cx="295.2" cy="365.2" r="7"/>
<circle cx="295.5" cy="381.4" r="7"/>
<circle cx="301.9" cy="307.8" r="7"/>
<circle cx="306" cy="309.9" r="7"/>
<circle cx="325.3" cy="273.4" r="7"/>
<circle cx="326.8" cy="273.8" r="7"/>
<circle cx="347.1" cy="299.7" r="7"/>
<circle cx="371.7" cy="238" r="7"/>
<circle cx="385.8" cy="227.3" r="7"/>
<circle cx="413.7" cy="324" r="7"/>
<circle cx="419" cy="269.3" r="7"/>
<circle cx="433.8" cy="271.1" r="7"/>
<circle cx="431.3" cy="276.4" r="7"/>
<circle cx="420.4" cy="303.9" r="7"/>
<circle cx="432.4" cy="322.9" r="7"/>
<circle cx="459.9" cy="327.3" r="7"/>
<circle cx="461" cy="334" r="7"/>
<circle cx="476.6" cy="338" r="7"/>
<circle cx="453.8" cy="341.4" r="7"/>
<circle cx="480.6" cy="358.6" r="7"/>
<circle cx="443.6" cy="363" r="7"/>
<circle cx="505.6" cy="381" r="7"/>
<circle cx="577.7" cy="530.8" r="7"/>
<circle cx="588.4" cy="536.4" r="7"/>
<circle cx="620.4" cy="536.7" r="7"/>
<circle cx="664.7" cy="545.4" r="7"/>
<circle cx="664.1" cy="560.8" r="7"/>
<circle cx="718.3" cy="608.3" r="7"/>
<circle cx="731" cy="625.8" r="7"/>
<circle cx="767.9" cy="644.7" r="7"/>
<circle cx="803.1" cy="620.6" r="7"/>
<circle cx="821" cy="654.1" r="7"/>
<circle cx="836.2" cy="664.2" r="7"/>
<circle cx="838.4" cy="673.1" r="7"/>
<circle cx="915.8" cy="718.3" r="7"/>
<circle cx="917.4" cy="679.2" r="7"/>
<circle cx="933.7" cy="666.5" r="7"/>
<circle cx="940.8" cy="677.7" r="7"/>
<circle cx="981.7" cy="658" r="7"/>
<circle cx="972.3" cy="676.3" r="7"/>
<circle cx="978.8" cy="680.8" r="7"/>
<circle cx="979.9" cy="691.5" r="7"/>
<circle cx="1030.8" cy="683.7" r="7"/>
<circle cx="1024.5" cy="689.3" r="7"/>
<circle cx="1024.5" cy="697.5" r="7"/>
<circle cx="1045.7" cy="693.8" r="7"/>
<circle cx="1065.8" cy="710.5" r="7"/>
<circle cx="1108.2" cy="671.4" r="7"/>
<circle cx="1116" cy="696.4" r="7"/>
</g>
<path d="M176.2,779.6 L178.2,773.3 L180.2,766.9 L182.2,760.4 L184.2,753.7 L186.2,746.9 L188.2,740.0 L190.2,733.0 L192.2,725.9 L194.2,718.8 L196.2,711.5 L198.2,704.2 L200.2,696.8 L202.2,689.3 L204.2,681.7 L206.2,674.2 L208.2,666.5 L210.2,658.8 L212.2,651.1 L214.2,643.4 L216.2,635.6 L218.2,627.8 L220.2,620.0 L222.2,612.2 L224.2,604.3 L226.2,596.5 L228.2,588.7 L230.2,580.9 L232.2,573.2 L234.2,565.5 L236.2,557.9 L238.2,550.3 L240.2,542.9 L242.2,535.5 L244.2,528.3 L246.2,521.1 L248.2,514.1 L250.2,507.1 L252.2,500.1 L254.2,493.2 L256.2,486.4 L258.2,479.7 L260.2,472.9 L262.2,466.3 L264.2,459.7 L266.2,453.2 L268.2,446.7 L270.2,440.3 L272.2,434.0 L274.2,427.8 L276.2,421.6 L278.2,415.5 L280.2,409.4 L282.2,403.4 L284.2,397.6 L286.2,391.7 L288.2,386.0 L290.2,380.4 L292.2,374.8 L294.2,369.4 L296.2,364.0 L298.2,358.7 L300.2,353.5 L302.2,348.5 L304.2,343.5 L306.2,338.7 L308.2,334.0 L310.2,329.3 L312.2,324.9 L314.2,320.5 L316.2,316.3 L318.2,312.2 L320.2,308.2 L322.2,304.4 L324.2,300.7 L326.2,297.2 L328.2,293.8 L330.2,290.5 L332.2,287.5 L334.2,284.5 L336.2,281.7 L338.2,279.1 L340.2,276.6 L342.2,274.3 L344.2,272.1 L346.2,270.0 L348.2,268.1 L350.2,266.4 L352.2,264.7 L354.2,263.2 L356.2,261.9 L358.2,260.6 L360.2,259.5 L362.2,258.6 L364.2,257.7 L366.2,257.0 L368.2,256.4 L370.2,255.9 L372.2,255.6 L374.2,255.4 L376.2,255.2 L378.2,255.3 L380.2,255.4 L382.2,255.6 L384.2,255.9 L386.2,256.4 L388.2,257.0 L390.2,257.6 L392.2,258.4 L394.2,259.3 L396.2,260.2 L398.2,261.3 L400.2,262.5 L402.2,263.8 L404.2,265.1 L406.2,266.6 L408.2,268.1 L410.2,269.8 L412.2,271.5 L414.2,273.3 L416.2,275.2 L418.2,277.2 L420.2,279.2 L422.2,281.4 L424.2,283.6 L426.2,285.9 L428.2,288.3 L430.2,290.7 L432.2,293.2 L434.2,295.8 L436.2,298.5 L438.2,301.2 L440.2,304.0 L442.2,306.8 L444.2,309.7 L446.2,312.7 L448.2,315.7 L450.2,318.8 L452.2,321.9 L454.2,325.1 L456.2,328.3 L458.2,331.6 L460.2,334.9 L462.2,338.2 L464.2,341.5 L466.2,344.9 L468.2,348.3 L470.2,351.7 L472.2,355.1 L474.2,358.6 L476.2,362.0 L478.2,365.5 L480.2,369.0 L482.2,372.4 L484.2,375.9 L486.2,379.4 L488.2,382.8 L490.2,386.3 L492.2,389.7 L494.2,393.1 L496.2,396.5 L498.2,399.8 L500.2,403.2 L502.2,406.5 L504.2,409.7 L506.2,413.0 L508.2,416.2 L510.2,419.3 L512.2,422.4 L514.2,425.5 L516.2,428.5 L518.2,431.5 L520.2,434.5 L522.2,437.4 L524.2,440.3 L526.2,443.1 L528.2,445.9 L530.2,448.7 L532.2,451.4 L534.2,454.1 L536.2,456.7 L538.2,459.3 L540.2,461.9 L542.2,464.5 L544.2,467.0 L546.2,469.5 L548.2,471.9 L550.2,474.3 L552.2,476.7 L554.2,479.1 L556.2,481.4 L558.2,483.7 L560.2,486.0 L562.2,488.2 L564.2,490.4 L566.2,492.6 L568.2,494.7 L570.2,496.8 L572.2,498.9 L574.2,501.0 L576.2,503.0 L578.2,505.0 L580.2,507.0 L582.2,508.9 L584.2,510.8 L586.2,512.7 L588.2,514.6 L590.2,516.5 L592.2,518.3 L594.2,520.1 L596.2,521.9 L598.2,523.7 L600.2,525.4 L602.2,527.1 L604.2,528.8 L606.2,530.5 L608.2,532.1 L610.2,533.8 L612.2,535.4 L614.2,537.0 L616.2,538.6 L618.2,540.1 L620.2,541.7 L622.2,543.2 L624.2,544.7 L626.2,546.2 L628.2,547.7 L630.2,549.1 L632.2,550.6 L634.2,552.0 L636.2,553.4 L638.2,554.8 L640.2,556.2 L642.2,557.6 L644.2,559.0 L646.2,560.3 L648.2,561.7 L650.2,563.0 L652.2,564.3 L654.2,565.6 L656.2,566.9 L658.2,568.2 L660.2,569.5 L662.2,570.8 L664.2,572.0 L666.2,573.3 L668.2,574.5 L670.2,575.8 L672.2,577.0 L674.2,578.2 L676.2,579.4 L678.2,580.7 L680.2,581.9 L682.2,583.1 L684.2,584.3 L686.2,585.4 L688.2,586.6 L690.2,587.8 L692.2,589.0 L694.2,590.1 L696.2,591.3 L698.2,592.5 L700.2,593.6 L702.2,594.8 L704.2,595.9 L706.2,597.0 L708.2,598.2 L710.2,599.3 L712.2,600.4 L714.2,601.5 L716.2,602.7 L718.2,603.8 L720.2,604.9 L722.2,606.0 L724.2,607.1 L726.2,608.2 L728.2,609.3 L730.2,610.4 L732.2,611.5 L734.2,612.6 L736.2,613.6 L738.2,614.7 L740.2,615.8 L742.2,616.9 L744.2,618.0 L746.2,619.1 L748.2,620.1 L750.2,621.2 L752.2,622.3 L754.2,623.4 L756.2,624.4 L758.2,625.5 L760.2,626.6 L762.2,627.7 L764.2,628.7 L766.2,629.8 L768.2,630.9 L770.2,631.9 L772.2,633.0 L774.2,634.0 L776.2,635.1 L778.2,636.1 L780.2,637.2 L782.2,638.2 L784.2,639.2 L786.2,640.3 L788.2,641.3 L790.2,642.3 L792.2,643.3 L794.2,644.3 L796.2,645.3 L798.2,646.2 L800.2,647.2 L802.2,648.2 L804.2,649.1 L806.2,650.0 L808.2,651.0 L810.2,651.9 L812.2,652.8 L814.2,653.7 L816.2,654.6 L818.2,655.4 L820.2,656.3 L822.2,657.1 L824.2,657.9 L826.2,658.8 L828.2,659.5 L830.2,660.3 L832.2,661.1 L834.2,661.9 L836.2,662.6 L838.2,663.3 L840.2,664.0 L842.2,664.7 L844.2,665.4 L846.2,666.1 L848.2,666.7 L850.2,667.4 L852.2,668.0 L854.2,668.6 L856.2,669.2 L858.2,669.8 L860.2,670.4 L862.2,670.9 L864.2,671.5 L866.2,672.0 L868.2,672.5 L870.2,673.0 L872.2,673.5 L874.2,674.0 L876.2,674.5 L878.2,674.9 L880.2,675.4 L882.2,675.8 L884.2,676.2 L886.2,676.6 L888.2,677.0 L890.2,677.4 L892.2,677.8 L894.2,678.1 L896.2,678.4 L898.2,678.8 L900.2,679.1 L902.2,679.4 L904.2,679.7 L906.2,680.0 L908.2,680.2 L910.2,680.5 L912.2,680.7 L914.2,680.9 L916.2,681.2 L918.2,681.4 L920.2,681.6 L922.2,681.8 L924.2,681.9 L926.2,682.1 L928.2,682.3 L930.2,682.4 L932.2,682.6 L934.2,682.7 L936.2,682.9 L938.2,683.0 L940.2,683.2 L942.2,683.3 L944.2,683.4 L946.2,683.5 L948.2,683.6 L950.2,683.7 L952.2,683.9 L954.2,684.0 L956.2,684.1 L958.2,684.2 L960.2,684.3 L962.2,684.4 L964.2,684.5 L966.2,684.6 L968.2,684.7 L970.2,684.8 L972.2,684.9 L974.2,685.0 L976.2,685.1 L978.2,685.2 L980.2,685.4 L982.2,685.5 L984.2,685.6 L986.2,685.7 L988.2,685.8 L990.2,686.0 L992.2,686.1 L994.2,686.2 L996.2,686.3 L998.2,686.5 L1000.2,686.6 L1002.2,686.7 L1004.2,686.9 L1006.2,687.0 L1008.2,687.1 L1010.2,687.2 L1012.2,687.4 L1014.2,687.5 L1016.2,687.6 L1018.2,687.8 L1020.2,687.9 L1022.2,688.0 L1024.2,688.1 L1026.2,688.3 L1028.2,688.4 L1030.2,688.5 L1032.2,688.6 L1034.2,688.7 L1036.2,688.9 L1038.2,689.0 L1040.2,689.1 L1042.2,689.2 L1044.2,689.3 L1046.2,689.4 L1048.2,689.5 L1050.2,689.6 L1052.2,689.7 L1054.2,689.8 L1056.2,689.9 L1058.2,690.0 L1060.2,690.1 L1062.2,690.2 L1064.2,690.3 L1066.2,690.3 L1068.2,690.4 L1070.2,690.5 L1072.2,690.5 L1074.2,690.6 L1076.2,690.7 L1078.2,690.7 L1080.2,690.8 L1082.2,690.8 L1084.2,690.9 L1086.2,690.9 L1088.2,690.9 L1090.2,690.9 L1092.2,691.0 L1094.2,691.0 L1096.2,691.0 L1098.2,691.0 L1100.2,691.0 L1102.2,691.0 L1104.2,691.0 L1106.2,691.0 L1108.2,690.9 L1110.2,690.9 L1112.2,690.9 L1114.2,690.8 L1116.2,690.8 L1118.2,690.7 L1120.2,690.6 L1122.2,690.6 L1124.2,690.5 L1126.2,690.4 L1128.2,690.3 L1130.2,690.2 L1132.2,690.1 L1134.2,690.0 L1136.2,689.9 L1138.2,689.7 L1140.2,689.6 L1142.2,689.5 L1144.2,689.3 L1146.2,689.2 L1148.2,689.0 L1150.2,688.9 L1152.2,688.7 L1154.2,688.5 L1156.2,688.3 L1158.2,688.2 L1160.2,688.0 L1162.2,687.8 L1164.2,687.6 L1166.2,687.4 L1168.2,687.2 L1170.2,687.0 L1172.2,686.8 L1174.2,686.6 L1176.2,686.3 L1178.2,686.1 L1180.2,685.9 L1182.2,685.7 L1184.2,685.5 L1186.2,685.3 L1188.2,685.0 L1190.2,684.8 L1192.2,684.6 L1194.2,684.3 L1196.2,684.1 L1198.2,683.9 L1200.2,683.7 L1202.2,683.4 L1204.2,683.2 L1206.2,683.0 L1208.2,682.7 L1210.2,682.5 L1212.2,682.3 L1214.2,682.1 L1216.2,681.8 L1218.2,681.6 L1220.2,681.4 L1222.2,681.2 L1224.2,680.9 L1226.2,680.7 L1228.2,680.5 L1230.2,680.3 L1232.2,680.1 L1234.2,679.9 L1236.2,679.7 L1238.2,679.5 L1240.2,679.3 L1242.2,679.1 L1244.2,678.9 L1246.2,678.7 L1248.2,678.6 L1250.2,678.4 L1252.2,678.2 L1254.2,678.1 L1256.2,677.9 L1258.2,677.7 L1260.2,677.6 L1262.2,677.5 L1264.2,677.3 L1266.2,677.2 L1268.2,677.1 L1270.2,677.0 L1272.2,676.8 L1274.2,676.7 L1276.2,676.7 L1278.2,676.6 L1280.2,676.5 L1282.2,676.4 L1284.2,676.4 L1286.2,676.3 L1288.2,676.3 L1290.2,676.2 L1292.2,676.2 L1294.2,676.2 L1296.2,676.2 L1298.2,676.2 L1300.2,676.2 L1302.2,676.2 L1304.2,676.2 L1306.2,676.2 L1308.2,676.3 L1310.2,676.4 L1312.2,676.4 L1314.2,676.5 L1316.0,676.6" fill="none" stroke="#1e4ba0" stroke-width="4.2" stroke-linejoin="round"/>
<path d="M252.0,-1071.0 L254.6,-1043.4 L257.1,-1016.2 L259.7,-989.4 L262.3,-963.0 L264.9,-937.1 L267.4,-911.5 L270.0,-886.3 L272.6,-861.5 L275.1,-837.2 L277.7,-813.1 L280.3,-789.5 L282.9,-766.2 L285.4,-743.3 L288.0,-720.7 L290.6,-698.5 L293.1,-676.6 L295.7,-655.1 L298.3,-633.9 L300.9,-613.0 L303.4,-592.5 L306.0,-572.2 L308.6,-552.3 L311.1,-532.7 L313.7,-513.4 L316.3,-494.4 L318.9,-475.7 L321.4,-457.2 L324.0,-439.1 L326.6,-421.2 L329.1,-403.6 L331.7,-386.3 L334.3,-369.3 L336.9,-352.5 L339.4,-336.0 L342.0,-319.7 L344.6,-303.7 L347.1,-287.9 L349.7,-272.4 L352.3,-257.1 L354.9,-242.1 L357.4,-227.3 L360.0,-212.7 L362.6,-198.3 L365.1,-184.2 L367.7,-170.2 L370.3,-156.5 L372.9,-143.0 L375.4,-129.8 L378.0,-116.7 L380.6,-103.8 L383.1,-91.1 L385.7,-78.6 L388.3,-66.3 L390.9,-54.3 L393.4,-42.3 L396.0,-30.6 L398.6,-19.1 L401.1,-7.7 L403.7,3.5 L406.3,14.5 L408.9,25.4 L411.4,36.0 L414.0,46.6 L416.6,56.9 L419.1,67.1 L421.7,77.1 L424.3,87.0 L426.9,96.8 L429.4,106.3 L432.0,115.8 L434.6,125.0 L437.1,134.2 L439.7,143.2 L442.3,152.0 L444.9,160.8 L447.4,169.4 L450.0,177.8 L452.6,186.1 L455.1,194.3 L457.7,202.4 L460.3,210.3 L462.9,218.2 L465.4,225.9 L468.0,233.5 L470.6,240.9 L473.1,248.3 L475.7,255.5 L478.3,262.6 L480.9,269.6 L483.4,276.5 L486.0,283.3 L488.6,290.0 L491.1,296.6 L493.7,303.1 L496.3,309.5 L498.9,315.8 L501.4,322.0 L504.0,328.1 L506.6,334.1 L509.1,340.0 L511.7,345.8 L514.3,351.5 L516.9,357.2 L519.4,362.7 L522.0,368.2 L524.6,373.6 L527.1,378.9 L529.7,384.1 L532.3,389.2 L534.9,394.3 L537.4,399.3 L540.0,404.2 L542.6,409.0 L545.1,413.7 L547.7,418.4 L550.3,423.0 L552.9,427.5 L555.4,432.0 L558.0,436.4 L560.6,440.7 L563.1,445.0 L565.7,449.2 L568.3,453.3 L570.9,457.4 L573.4,461.4 L576.0,465.3 L578.6,469.2 L581.1,473.0 L583.7,476.8 L586.3,480.5 L588.9,484.1 L591.4,487.7 L594.0,491.2 L596.6,494.7 L599.1,498.2 L601.7,501.5 L604.3,504.8 L606.9,508.1 L609.4,511.3 L612.0,514.5 L614.6,517.6 L617.1,520.7 L619.7,523.7 L622.3,526.7 L624.9,529.6 L627.4,532.5 L630.0,535.3 L632.6,538.1 L635.1,540.9 L637.7,543.6 L640.3,546.3 L642.9,548.9 L645.4,551.5 L648.0,554.0 L650.6,556.5 L653.1,559.0 L655.7,561.4 L658.3,563.8 L660.9,566.2 L663.4,568.5 L666.0,570.8 L668.6,573.0 L671.1,575.3 L673.7,577.4 L676.3,579.6 L678.9,581.7 L681.4,583.8 L684.0,585.8 L686.6,587.8 L689.1,589.8 L691.7,591.8 L694.3,593.7 L696.9,595.6 L699.4,597.5 L702.0,599.3 L704.6,601.1 L707.1,602.9 L709.7,604.6 L712.3,606.4 L714.9,608.1 L717.4,609.7 L720.0,611.4 L722.6,613.0 L725.1,614.6 L727.7,616.2 L730.3,617.7 L732.9,619.3 L735.4,620.8 L738.0,622.2 L740.6,623.7 L743.1,625.1 L745.7,626.5 L748.3,627.9 L750.9,629.3 L753.4,630.6 L756.0,631.9 L758.6,633.2 L761.1,634.5 L763.7,635.8 L766.3,637.0 L768.9,638.3 L771.4,639.5 L774.0,640.7 L776.6,641.8 L779.1,643.0 L781.7,644.1 L784.3,645.2 L786.9,646.3 L789.4,647.4 L792.0,648.5 L794.6,649.5 L797.1,650.5 L799.7,651.6 L802.3,652.6 L804.9,653.5 L807.4,654.5 L810.0,655.5 L812.6,656.4 L815.1,657.3 L817.7,658.2 L820.3,659.1 L822.9,660.0 L825.4,660.9 L828.0,661.8 L830.6,662.6 L833.1,663.4 L835.7,664.2 L838.3,665.0 L840.9,665.8 L843.4,666.6 L846.0,667.4 L848.6,668.1 L851.1,668.9 L853.7,669.6 L856.3,670.3 L858.9,671.0 L861.4,671.7 L864.0,672.4 L866.6,673.1 L869.1,673.8 L871.7,674.4 L874.3,675.1 L876.9,675.7 L879.4,676.3 L882.0,677.0 L884.6,677.6 L887.1,678.2 L889.7,678.8 L892.3,679.3 L894.9,679.9 L897.4,680.5 L900.0,681.0 L902.6,681.6 L905.1,682.1 L907.7,682.6 L910.3,683.1 L912.9,683.7 L915.4,684.2 L918.0,684.7 L920.6,685.1 L923.1,685.6 L925.7,686.1 L928.3,686.6 L930.9,687.0 L933.4,687.5 L936.0,687.9 L938.6,688.4 L941.1,688.8 L943.7,689.2 L946.3,689.6 L948.9,690.0 L951.4,690.5 L954.0,690.9 L956.6,691.2 L959.1,691.6 L961.7,692.0 L964.3,692.4 L966.9,692.8 L969.4,693.1 L972.0,693.5 L974.6,693.8 L977.1,694.2 L979.7,694.5 L982.3,694.9 L984.9,695.2 L987.4,695.5 L990.0,695.8 L992.6,696.1 L995.1,696.5 L997.7,696.8 L1000.3,697.1 L1002.9,697.4 L1005.4,697.7 L1008.0,697.9 L1010.6,698.2 L1013.1,698.5 L1015.7,698.8 L1018.3,699.0 L1020.9,699.3 L1023.4,699.6 L1026.0,699.8 L1028.6,700.1 L1031.1,700.3 L1033.7,700.6 L1036.3,700.8 L1038.9,701.1 L1041.4,701.3 L1044.0,701.5 L1046.6,701.8 L1049.1,702.0 L1051.7,702.2 L1054.3,702.4 L1056.9,702.6 L1059.4,702.8 L1062.0,703.0 L1064.6,703.3 L1067.1,703.5 L1069.7,703.7 L1072.3,703.8 L1074.9,704.0 L1077.4,704.2 L1080.0,704.4 L1082.6,704.6 L1085.1,704.8 L1087.7,705.0 L1090.3,705.1 L1092.9,705.3 L1095.4,705.5 L1098.0,705.6 L1100.6,705.8 L1103.1,706.0 L1105.7,706.1 L1108.3,706.3 L1110.9,706.4 L1113.4,706.6 L1116.0,706.7 L1118.6,706.9 L1121.1,707.0 L1123.7,707.2 L1126.3,707.3 L1128.9,707.4 L1131.4,707.6 L1134.0,707.7 L1136.6,707.8 L1139.1,708.0 L1141.7,708.1 L1144.3,708.2 L1146.9,708.4 L1149.4,708.5 L1152.0,708.6 L1154.6,708.7 L1157.1,708.8 L1159.7,708.9 L1162.3,709.1 L1164.9,709.2 L1167.4,709.3 L1170.0,709.4 L1172.6,709.5 L1175.1,709.6 L1177.7,709.7 L1180.3,709.8 L1182.9,709.9 L1185.4,710.0 L1188.0,710.1 L1190.6,710.2 L1193.1,710.3 L1195.7,710.4 L1198.3,710.5 L1200.9,710.6 L1203.4,710.6 L1206.0,710.7 L1208.6,710.8 L1211.1,710.9 L1213.7,711.0 L1216.3,711.1 L1218.9,711.1 L1221.4,711.2 L1224.0,711.3 L1226.6,711.4 L1229.1,711.5 L1231.7,711.5 L1234.3,711.6 L1236.9,711.7 L1239.4,711.7 L1242.0,711.8 L1244.6,711.9 L1247.1,712.0 L1249.7,712.0 L1252.3,712.1 L1254.9,712.1 L1257.4,712.2 L1260.0,712.3 L1262.6,712.3 L1265.1,712.4 L1267.7,712.5 L1270.3,712.5 L1272.9,712.6 L1275.4,712.6 L1278.0,712.7" fill="none" stroke="#a26cb0" stroke-width="4.2" stroke-linejoin="round"/>
<path d="M252.0,688.6 L254.6,672.2 L257.1,656.3 L259.7,640.9 L262.3,625.9 L264.9,611.4 L267.4,597.4 L270.0,583.8 L272.6,570.6 L275.1,557.8 L277.7,545.4 L280.3,533.4 L282.9,521.7 L285.4,510.4 L288.0,499.5 L290.6,488.9 L293.1,478.6 L295.7,468.6 L298.3,459.0 L300.9,449.6 L303.4,440.5 L306.0,431.7 L308.6,423.2 L311.1,414.9 L313.7,406.9 L316.3,399.2 L318.9,391.6 L321.4,384.3 L324.0,377.2 L326.6,370.4 L329.1,363.7 L331.7,357.3 L334.3,351.1 L336.9,345.0 L339.4,339.1 L342.0,333.4 L344.6,327.9 L347.1,322.6 L349.7,317.4 L352.3,312.4 L354.9,307.5 L357.4,302.8 L360.0,298.2 L362.6,293.8 L365.1,289.5 L367.7,285.3 L370.3,281.3 L372.9,277.4 L375.4,273.6 L378.0,269.9 L380.6,266.3 L383.1,262.9 L385.7,259.5 L388.3,256.3 L390.9,253.1 L393.4,250.1 L396.0,247.1 L398.6,244.3 L401.1,241.5 L403.7,238.8 L406.3,236.2 L408.9,233.7 L411.4,231.2 L414.0,228.8 L416.6,226.5 L419.1,224.3 L421.7,222.1 L424.3,220.0 L426.9,218.0 L429.4,216.0 L432.0,214.1 L434.6,212.2 L437.1,210.5 L439.7,208.7 L442.3,207.0 L444.9,205.4 L447.4,203.8 L450.0,202.3 L452.6,200.8 L455.1,199.3 L457.7,197.9 L460.3,196.6 L462.9,195.3 L465.4,194.0 L468.0,192.8 L470.6,191.6 L473.1,190.4 L475.7,189.3 L478.3,188.2 L480.9,187.1 L483.4,186.1 L486.0,185.1 L488.6,184.1 L491.1,183.2 L493.7,182.3 L496.3,181.4 L498.9,180.6 L501.4,179.8 L504.0,179.0 L506.6,178.2 L509.1,177.4 L511.7,176.7 L514.3,176.0 L516.9,175.3 L519.4,174.6 L522.0,174.0 L524.6,173.4 L527.1,172.8 L529.7,172.2 L532.3,171.6 L534.9,171.1 L537.4,170.5 L540.0,170.0 L542.6,169.5 L545.1,169.0 L547.7,168.6 L550.3,168.1 L552.9,167.7 L555.4,167.2 L558.0,166.8 L560.6,166.4 L563.1,166.0 L565.7,165.7 L568.3,165.3 L570.9,164.9 L573.4,164.6 L576.0,164.3 L578.6,163.9 L581.1,163.6 L583.7,163.3 L586.3,163.0 L588.9,162.7 L591.4,162.5 L594.0,162.2 L596.6,161.9 L599.1,161.7 L601.7,161.4 L604.3,161.2 L606.9,161.0 L609.4,160.8 L612.0,160.5 L614.6,160.3 L617.1,160.1 L619.7,159.9 L622.3,159.7 L624.9,159.6 L627.4,159.4 L630.0,159.2 L632.6,159.0 L635.1,158.9 L637.7,158.7 L640.3,158.6 L642.9,158.4 L645.4,158.3 L648.0,158.1 L650.6,158.0 L653.1,157.9 L655.7,157.7 L658.3,157.6 L660.9,157.5 L663.4,157.4 L666.0,157.3 L668.6,157.2 L671.1,157.0 L673.7,156.9 L676.3,156.8 L678.9,156.8 L681.4,156.7 L684.0,156.6 L686.6,156.5 L689.1,156.4 L691.7,156.3 L694.3,156.2 L696.9,156.2 L699.4,156.1 L702.0,156.0 L704.6,155.9 L707.1,155.9 L709.7,155.8 L712.3,155.7 L714.9,155.7 L717.4,155.6 L720.0,155.6 L722.6,155.5 L725.1,155.5 L727.7,155.4 L730.3,155.3 L732.9,155.3 L735.4,155.2 L738.0,155.2 L740.6,155.2 L743.1,155.1 L745.7,155.1 L748.3,155.0 L750.9,155.0 L753.4,154.9 L756.0,154.9 L758.6,154.9 L761.1,154.8 L763.7,154.8 L766.3,154.8 L768.9,154.7 L771.4,154.7 L774.0,154.7 L776.6,154.6 L779.1,154.6 L781.7,154.6 L784.3,154.6 L786.9,154.5 L789.4,154.5 L792.0,154.5 L794.6,154.5 L797.1,154.4 L799.7,154.4 L802.3,154.4 L804.9,154.4 L807.4,154.4 L810.0,154.3 L812.6,154.3 L815.1,154.3 L817.7,154.3 L820.3,154.3 L822.9,154.2 L825.4,154.2 L828.0,154.2 L830.6,154.2 L833.1,154.2 L835.7,154.2 L838.3,154.2 L840.9,154.1 L843.4,154.1 L846.0,154.1 L848.6,154.1 L851.1,154.1 L853.7,154.1 L856.3,154.1 L858.9,154.1 L861.4,154.1 L864.0,154.0 L866.6,154.0 L869.1,154.0 L871.7,154.0 L874.3,154.0 L876.9,154.0 L879.4,154.0 L882.0,154.0 L884.6,154.0 L887.1,154.0 L889.7,154.0 L892.3,153.9 L894.9,153.9 L897.4,153.9 L900.0,153.9 L902.6,153.9 L905.1,153.9 L907.7,153.9 L910.3,153.9 L912.9,153.9 L915.4,153.9 L918.0,153.9 L920.6,153.9 L923.1,153.9 L925.7,153.9 L928.3,153.9 L930.9,153.9 L933.4,153.9 L936.0,153.9 L938.6,153.9 L941.1,153.8 L943.7,153.8 L946.3,153.8 L948.9,153.8 L951.4,153.8 L954.0,153.8 L956.6,153.8 L959.1,153.8 L961.7,153.8 L964.3,153.8 L966.9,153.8 L969.4,153.8 L972.0,153.8 L974.6,153.8 L977.1,153.8 L979.7,153.8 L982.3,153.8 L984.9,153.8 L987.4,153.8 L990.0,153.8 L992.6,153.8 L995.1,153.8 L997.7,153.8 L1000.3,153.8 L1002.9,153.8 L1005.4,153.8 L1008.0,153.8 L1010.6,153.8 L1013.1,153.8 L1015.7,153.8 L1018.3,153.8 L1020.9,153.8 L1023.4,153.8 L1026.0,153.8 L1028.6,153.8 L1031.1,153.8 L1033.7,153.8 L1036.3,153.8 L1038.9,153.8 L1041.4,153.8 L1044.0,153.8 L1046.6,153.8 L1049.1,153.8 L1051.7,153.8 L1054.3,153.8 L1056.9,153.8 L1059.4,153.8 L1062.0,153.7 L1064.6,153.7 L1067.1,153.7 L1069.7,153.7 L1072.3,153.7 L1074.9,153.7 L1077.4,153.7 L1080.0,153.7 L1082.6,153.7 L1085.1,153.7 L1087.7,153.7 L1090.3,153.7 L1092.9,153.7 L1095.4,153.7 L1098.0,153.7 L1100.6,153.7 L1103.1,153.7 L1105.7,153.7 L1108.3,153.7 L1110.9,153.7 L1113.4,153.7 L1116.0,153.7 L1118.6,153.7 L1121.1,153.7 L1123.7,153.7 L1126.3,153.7 L1128.9,153.7 L1131.4,153.7 L1134.0,153.7 L1136.6,153.7 L1139.1,153.7 L1141.7,153.7 L1144.3,153.7 L1146.9,153.7 L1149.4,153.7 L1152.0,153.7 L1154.6,153.7 L1157.1,153.7 L1159.7,153.7 L1162.3,153.7 L1164.9,153.7 L1167.4,153.7 L1170.0,153.7 L1172.6,153.7 L1175.1,153.7 L1177.7,153.7 L1180.3,153.7 L1182.9,153.7 L1185.4,153.7 L1188.0,153.7 L1190.6,153.7 L1193.1,153.7 L1195.7,153.7 L1198.3,153.7 L1200.9,153.7 L1203.4,153.7 L1206.0,153.7 L1208.6,153.7 L1211.1,153.7 L1213.7,153.7 L1216.3,153.7 L1218.9,153.7 L1221.4,153.7 L1224.0,153.7 L1226.6,153.7 L1229.1,153.7 L1231.7,153.7 L1234.3,153.7 L1236.9,153.7 L1239.4,153.7 L1242.0,153.7 L1244.6,153.7 L1247.1,153.7 L1249.7,153.7 L1252.3,153.7 L1254.9,153.7 L1257.4,153.7 L1260.0,153.7 L1262.6,153.7 L1265.1,153.7 L1267.7,153.7 L1270.3,153.7 L1272.9,153.7 L1275.4,153.7 L1278.0,153.7" fill="none" stroke="#a68a24" stroke-width="4.2" stroke-linejoin="round"/>
<line x1="141.7" x2="1350" y1="727.25" y2="727.25" stroke="#000" stroke-width="2.6"/>
</g>
<rect x="891.1" y="36.6" width="418.6" height="164.1" fill="#fff" stroke="#000" stroke-width="2.4"/>
<line x1="904.4" x2="985.1" y1="69.7" y2="69.7" stroke="#000" stroke-width="2.5" stroke-dasharray="18.7 11.3"/>
<line x1="904.4" x2="985.1" y1="102.4" y2="102.4" stroke="#1e4ba0" stroke-width="2.4"/>
<line x1="904.4" x2="985.1" y1="135.1" y2="135.1" stroke="#a26cb0" stroke-width="2.4"/>
<line x1="904.4" x2="985.1" y1="167.9" y2="167.9" stroke="#a68a24" stroke-width="2.4"/>
<g font-family="Liberation Serif, serif" font-size="28.3" fill="#000">
<text id="L1" x="998" y="79" textLength="179.5" lengthAdjust="spacingAndGlyphs">true flow stress</text>
<text id="L2" x="998" y="111.6" textLength="284" lengthAdjust="spacingAndGlyphs">Gaussian Process model</text>
<text id="L3a" x="996.8" y="144.4" textLength="15" lengthAdjust="spacingAndGlyphs">1</text>
<text id="L3b" x="1045.6" y="144.4" textLength="113.6" lengthAdjust="spacingAndGlyphs">grain size</text>
<text id="L4a" x="996.8" y="174.3" textLength="15" lengthAdjust="spacingAndGlyphs">1</text>
<text id="L4b" x="1024.9" y="174.3" textLength="113.6" lengthAdjust="spacingAndGlyphs">grain size</text>
</g>
<path d="M1011.9,151.3 L1023.2,123.8 M1011.9,181.6 L1023.2,153.6" fill="none" stroke="#000" stroke-width="1.4"/>
<path d="M1025.8,140.6 L1028.6,138.6 L1032.2,149.5" fill="none" stroke="#000" stroke-width="2.6" stroke-linejoin="miter"/>
<path d="M1025.6,140.2 L1028.8,138 M1032,150 L1037.4,119.3 H1162.2" fill="none" stroke="#000" stroke-width="1.5"/>
<g font-family="Liberation Sans, sans-serif" font-size="30" fill="#000" stroke="#000" stroke-width="0.45" text-anchor="end">
<text class="yt" x="122.3" y="737.5" textLength="17.2" lengthAdjust="spacingAndGlyphs">0</text>
<text class="yt" x="122.3" y="558.4" textLength="51.6" lengthAdjust="spacingAndGlyphs">500</text>
<text class="yt" x="122.3" y="379.2" textLength="68.8" lengthAdjust="spacingAndGlyphs">1000</text>
<text class="yt" x="122.3" y="200.0" textLength="68.8" lengthAdjust="spacingAndGlyphs">1500</text>
<text class="yt" x="122.3" y="20.9" textLength="68.8" lengthAdjust="spacingAndGlyphs">2000</text>
</g>
<g font-family="Liberation Sans, sans-serif" fill="#000" stroke="#000" stroke-width="0.45">
<text class="xt" x="334.2" y="847.3" font-size="30" textLength="33.8" lengthAdjust="spacingAndGlyphs">10</text>
<text class="xs" x="365.6" y="831.9" font-size="23.3" textLength="16.3" lengthAdjust="spacingAndGlyphs">−</text>
<text class="xs" x="383.9" y="831" font-size="23.3">2</text>
<text class="xt" x="722.9" y="847.3" font-size="30" textLength="33.8" lengthAdjust="spacingAndGlyphs">10</text>
<text class="xs" x="754.2" y="831" font-size="23.3">0</text>
<text class="xt" x="1103.1" y="847.3" font-size="30" textLength="33.8" lengthAdjust="spacingAndGlyphs">10</text>
<text class="xs" x="1134.7" y="831" font-size="23.3">2</text>
</g>
<g font-family="Liberation Serif, serif" font-size="38.3" fill="#000">
<text x="567.5" y="883.8" textLength="50" lengthAdjust="spacingAndGlyphs">log</text>
<text x="617" y="894.6" font-size="27">10</text>
<text x="643.8" y="883.8">(</text>
<text x="659.5" y="883.8" textLength="154.5" lengthAdjust="spacingAndGlyphs">grain size</text>
<text x="823.3" y="883.8">(</text>
<text x="837.5" y="883.8" textLength="61.5" lengthAdjust="spacingAndGlyphs"><tspan font-style="italic">μ</tspan>m</text>
<text x="899.3" y="883.8" textLength="19.5" lengthAdjust="spacingAndGlyphs">))</text>
<g transform="translate(28.8,552.1) rotate(-90)">
<text id="YL1" x="-0.5" y="0" textLength="70" lengthAdjust="spacingAndGlyphs">flow</text>
<text id="YL2" x="79.8" y="0" textLength="88" lengthAdjust="spacingAndGlyphs">stress</text>
<text id="YL3" x="177" y="0">(</text>
<text id="YL4" x="192.3" y="0" textLength="35" lengthAdjust="spacingAndGlyphs">M</text>
<text id="YL5" x="231.2" y="0" textLength="23" lengthAdjust="spacingAndGlyphs">P</text>
<text id="YL6" x="257.3" y="0" textLength="21.5" lengthAdjust="spacingAndGlyphs">a</text>
<text id="YL7" x="278.3" y="0">)</text>
</g>
</g>
</svg>
</body></html>
